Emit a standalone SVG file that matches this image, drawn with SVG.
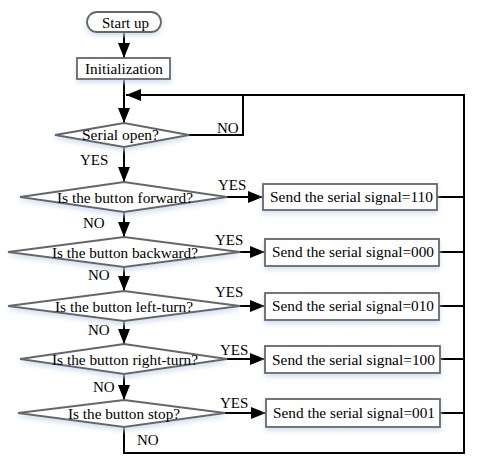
<svg xmlns="http://www.w3.org/2000/svg" width="480" height="469" viewBox="0 0 480 469">
<style>
.node{fill:#fff;stroke:#666;stroke-width:1.8;filter:url(#sh)}
.t{font-family:"Liberation Serif","Times New Roman",serif;font-size:15px;fill:#000}
.c{text-anchor:middle}
.ln{fill:none;stroke:#000;stroke-width:2}
</style>
<defs>
<filter id="sh" x="-10%" y="-30%" width="120%" height="160%">
<feDropShadow dx="0" dy="3" stdDeviation="2.5" flood-color="#c8d8f0" flood-opacity="0.8"/>
</filter>
<marker id="ah" markerUnits="userSpaceOnUse" markerWidth="15" markerHeight="12" refX="15" refY="6" orient="auto">
<path d="M0,0 L15,6 L0,12 z" fill="#000"/>
</marker>
</defs>
<rect width="480" height="469" fill="#fff"/>
<g id="connectors">
<line class="ln" x1="124" y1="32" x2="124" y2="58" marker-end="url(#ah)"/>
<line class="ln" x1="124" y1="79" x2="124" y2="123" marker-end="url(#ah)"/>
<polyline class="ln" points="464,453 464,95 126,95" marker-end="url(#ah)"/>
<polyline class="ln" points="189,135 243,135 243,95"/>
<line class="ln" x1="124" y1="147" x2="124" y2="182" marker-end="url(#ah)"/>
<line class="ln" x1="124" y1="212" x2="124" y2="237" marker-end="url(#ah)"/>
<line class="ln" x1="124" y1="267" x2="124" y2="291" marker-end="url(#ah)"/>
<line class="ln" x1="124" y1="321" x2="124" y2="344" marker-end="url(#ah)"/>
<line class="ln" x1="124" y1="374" x2="124" y2="400" marker-end="url(#ah)"/>
<polyline class="ln" points="124,427 124,453 465,453"/>
<line class="ln" x1="227" y1="197" x2="263" y2="197" marker-end="url(#ah)"/>
<line class="ln" x1="240" y1="252" x2="265" y2="252" marker-end="url(#ah)"/>
<line class="ln" x1="240" y1="306" x2="265" y2="306" marker-end="url(#ah)"/>
<line class="ln" x1="227" y1="359" x2="265" y2="359" marker-end="url(#ah)"/>
<line class="ln" x1="225" y1="413" x2="266" y2="413" marker-end="url(#ah)"/>
<line class="ln" x1="437" y1="197" x2="464" y2="197"/>
<line class="ln" x1="439" y1="252" x2="464" y2="252"/>
<line class="ln" x1="439" y1="306" x2="464" y2="306"/>
<line class="ln" x1="440" y1="359" x2="464" y2="359"/>
<line class="ln" x1="440" y1="413" x2="464" y2="413"/>
<text class="t" x="217" y="133">NO</text>
<text class="t" x="80" y="165">YES</text>
<text class="t" x="218" y="190">YES</text>
<text class="t" x="83" y="228">NO</text>
<text class="t" x="215" y="245">YES</text>
<text class="t" x="88" y="280">NO</text>
<text class="t" x="215" y="297">YES</text>
<text class="t" x="88" y="335">NO</text>
<text class="t" x="220" y="355">YES</text>
<text class="t" x="93" y="392">NO</text>
<text class="t" x="220" y="408">YES</text>
<text class="t" x="137" y="445">NO</text>
</g>
<g id="start">
<rect class="node" x="87" y="12" width="74" height="20" rx="10"/>
<text class="t" x="102" y="28" textLength="47" lengthAdjust="spacingAndGlyphs">Start up</text>
</g>
<g id="init">
<rect class="node" x="77" y="58" width="93" height="21"/>
<text class="t" x="85" y="74" textLength="78" lengthAdjust="spacingAndGlyphs">Initialization</text>
</g>
<g id="d1">
<polygon class="node" points="55,135 124,123 189,135 124,147"/>
<text class="t" x="82" y="140" textLength="77" lengthAdjust="spacingAndGlyphs">Serial open?</text>
</g>
<g id="d2">
<polygon class="node" points="20,197 124,182 227,197 124,212"/>
<text class="t" x="57" y="203" textLength="136" lengthAdjust="spacingAndGlyphs">Is the button forward?</text>
</g>
<g id="d3">
<polygon class="node" points="8,252 124,237 240,252 124,267"/>
<text class="t" x="52" y="258" textLength="146" lengthAdjust="spacingAndGlyphs">Is the button backward?</text>
</g>
<g id="d4">
<polygon class="node" points="8,306 124,291 240,306 124,321"/>
<text class="t" x="55" y="312" textLength="138" lengthAdjust="spacingAndGlyphs">Is the button left-turn?</text>
</g>
<g id="d5">
<polygon class="node" points="20,359 124,344 227,359 124,374"/>
<text class="t" x="52" y="365" textLength="146" lengthAdjust="spacingAndGlyphs">Is the button right-turn?</text>
</g>
<g id="d6">
<polygon class="node" points="18,413 124,400 225,413 124,427"/>
<text class="t" x="68" y="419" textLength="112" lengthAdjust="spacingAndGlyphs">Is the button stop?</text>
</g>
<g id="b1">
<rect class="node" x="263" y="184" width="174" height="26"/>
<text class="t" x="270" y="202" textLength="163" lengthAdjust="spacingAndGlyphs">Send the serial signal=110</text>
</g>
<g id="b2">
<rect class="node" x="265" y="239" width="174" height="27"/>
<text class="t" x="272" y="257" textLength="162" lengthAdjust="spacingAndGlyphs">Send the serial signal=000</text>
</g>
<g id="b3">
<rect class="node" x="265" y="293" width="174" height="27"/>
<text class="t" x="272" y="311" textLength="162" lengthAdjust="spacingAndGlyphs">Send the serial signal=010</text>
</g>
<g id="b4">
<rect class="node" x="265" y="346" width="175" height="27"/>
<text class="t" x="272" y="365" textLength="163" lengthAdjust="spacingAndGlyphs">Send the serial signal=100</text>
</g>
<g id="b5">
<rect class="node" x="266" y="399" width="174" height="28"/>
<text class="t" x="273" y="418" textLength="162" lengthAdjust="spacingAndGlyphs">Send the serial signal=001</text>
</g>
</svg>
